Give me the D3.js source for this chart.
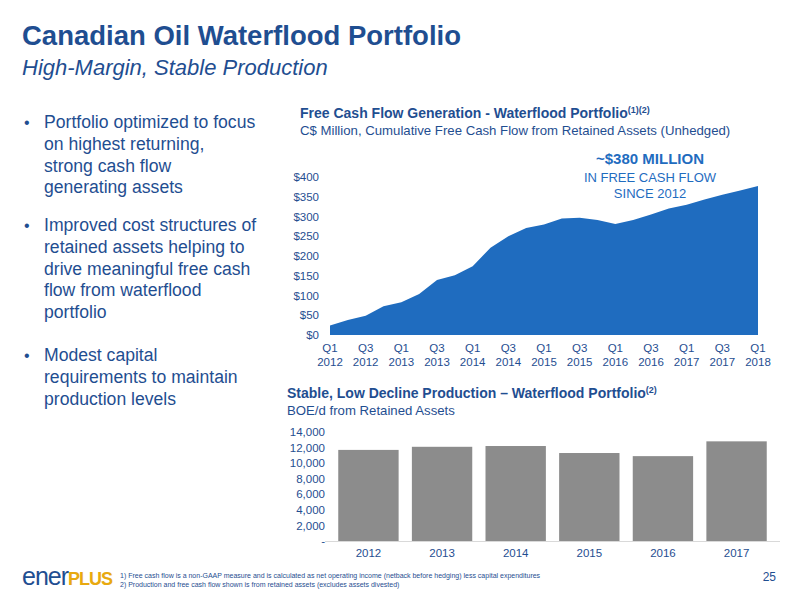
<!DOCTYPE html><html><head><meta charset="utf-8">
<script src="https://cdn.jsdelivr.net/npm/d3@7"></script>
<style>body{margin:0;background:#fff;font-family:"Liberation Sans",Arial,sans-serif}</style></head><body>
<svg id="c" width="800" height="600"></svg>
<script>
const quarters=["Q1\n2012","Q2\n2012","Q3\n2012","Q4\n2012","Q1\n2013","Q2\n2013","Q3\n2013","Q4\n2013","Q1\n2014","Q2\n2014","Q3\n2014","Q4\n2014","Q1\n2015","Q2\n2015","Q3\n2015","Q4\n2015","Q1\n2016","Q2\n2016","Q3\n2016","Q4\n2016","Q1\n2017","Q2\n2017","Q3\n2017","Q4\n2017","Q1\n2018"];
const fcf=[24,38,49,73,83,104,139,151,174,221,250,271,280,295,297,291,281,291,305,320,330,343,355,366,377];
const years=["2012","2013","2014","2015","2016","2017"];
const boe=[11700,12100,12200,11300,10900,12800];
const fcfTicks=[0,50,100,150,200,250,300,350,400];
const boeTicks=[0,2000,4000,6000,8000,10000,12000,14000];
const svg=d3.select("#c");
const navy="#1f4e91", blue="#1f6cbf";
svg.append("text").attr("x",22).attr("y",45).attr("fill",navy).attr("font-size",27.5).attr("font-weight","bold").text("Canadian Oil Waterflood Portfolio");
svg.append("text").attr("x",22).attr("y",75).attr("fill",navy).attr("font-size",22).attr("font-style","italic").text("High-Margin, Stable Production");
const bullets=[["Portfolio optimized to focus","on highest returning,","strong cash flow","generating assets"],["Improved cost structures of","retained assets helping to","drive meaningful free cash","flow from waterflood","portfolio"],["Modest capital","requirements to maintain","production levels"]];
const bStarts=[128,231,361];
bullets.forEach((b,k)=>{const by=bStarts[k];svg.append("text").attr("x",24).attr("y",by).attr("fill",navy).attr("font-size",16).text("•");
 b.forEach((l,i)=>svg.append("text").attr("x",44).attr("y",by+i*21.8).attr("fill",navy).attr("font-size",17.6).text(l));});
// chart 1
svg.append("text").attr("x",300).attr("y",118).attr("fill",navy).attr("font-size",14).attr("font-weight","bold").text("Free Cash Flow Generation - Waterflood Portfolio").append("tspan").attr("font-size",9).attr("dy",-5).text("(1)(2)");
svg.append("text").attr("x",300).attr("y",135).attr("fill",navy).attr("font-size",13.2).text("C$ Million, Cumulative Free Cash Flow from Retained Assets (Unhedged)");
const x=d3.scalePoint().domain(quarters).range([330,758]);
const y=d3.scaleLinear().domain([0,400]).range([335,177]);
svg.append("path").datum(fcf).attr("fill",blue).attr("d",d3.area().x((d,i)=>x(quarters[i])).y0(y(0)).y1(d=>y(d)));
const ya=svg.append("g").attr("transform","translate(322,0)").call(d3.axisLeft(y).tickValues(fcfTicks).tickFormat(d=>"$"+d).tickSize(0));
ya.select(".domain").remove();ya.selectAll("text").attr("fill",navy).attr("font-size",11.5).attr("font-family","Liberation Sans,Arial");
quarters.forEach((q,i)=>{if(i%2)return;const p=q.split("\n");
 const t=svg.append("text").attr("x",x(q)).attr("y",352).attr("text-anchor","middle").attr("fill",navy).attr("font-size",11.5);
 t.append("tspan").attr("x",x(q)).text(p[0]);t.append("tspan").attr("x",x(q)).attr("dy",14).text(p[1]);});
svg.append("text").attr("x",650).attr("y",164).attr("text-anchor","middle").attr("fill",blue).attr("font-size",15).attr("font-weight","bold").text("~$380 MILLION");
svg.append("text").attr("x",650).attr("y",182).attr("text-anchor","middle").attr("fill",blue).attr("font-size",13).text("IN FREE CASH FLOW");
svg.append("text").attr("x",650).attr("y",198).attr("text-anchor","middle").attr("fill",blue).attr("font-size",13).text("SINCE 2012");
// chart 2
svg.append("text").attr("x",287).attr("y",398).attr("fill",navy).attr("font-size",14).attr("font-weight","bold").text("Stable, Low Decline Production \u2013 Waterflood Portfolio").append("tspan").attr("font-size",9).attr("dy",-5).text("(2)");
svg.append("text").attr("x",287).attr("y",415).attr("fill",navy).attr("font-size",13.2).text("BOE/d from Retained Assets");
const xb=d3.scaleBand().domain(years).range([325,780]).padding(0.18);
const yb=d3.scaleLinear().domain([0,14000]).range([541,432]);
svg.selectAll(".b").data(boe).join("rect").attr("x",(d,i)=>xb(years[i])).attr("width",xb.bandwidth()).attr("y",d=>yb(d)).attr("height",d=>yb(0)-yb(d)).attr("fill","#8c8c8c");
svg.append("line").attr("x1",325).attr("x2",780).attr("y1",541.5).attr("y2",541.5).attr("stroke","#d9d9d9");
const yba=svg.append("g").attr("transform","translate(328,0)").call(d3.axisLeft(yb).tickValues(boeTicks).tickFormat(d=>d===0?"-":d3.format(",")(d)).tickSize(0));
yba.select(".domain").remove();yba.selectAll("text").attr("fill",navy).attr("font-size",11.5).attr("font-family","Liberation Sans,Arial");
const xba=svg.append("g").attr("transform","translate(0,546)").call(d3.axisBottom(xb).tickSize(0));
xba.select(".domain").remove();xba.selectAll("text").attr("fill",navy).attr("font-size",11.5).attr("font-family","Liberation Sans,Arial");
// footer
svg.append("text").attr("x",22).attr("y",585).attr("font-size",25).attr("fill",navy).attr("letter-spacing",-1).text("ener").append("tspan").attr("fill","#e8a90f").attr("font-weight","bold").attr("font-size",18).text("PLUS");
svg.append("text").attr("x",120).attr("y",578).attr("font-size",7).attr("fill",navy).text("1) Free cash flow is a non-GAAP measure and is calculated as net operating income (netback before hedging) less capital expenditures");
svg.append("text").attr("x",120).attr("y",587).attr("font-size",7).attr("fill",navy).text("2) Production and free cash flow shown is from retained assets (excludes assets divested)");
svg.append("text").attr("x",776).attr("y",581).attr("text-anchor","end").attr("font-size",12).attr("fill",navy).text("25");
</script></body></html>
